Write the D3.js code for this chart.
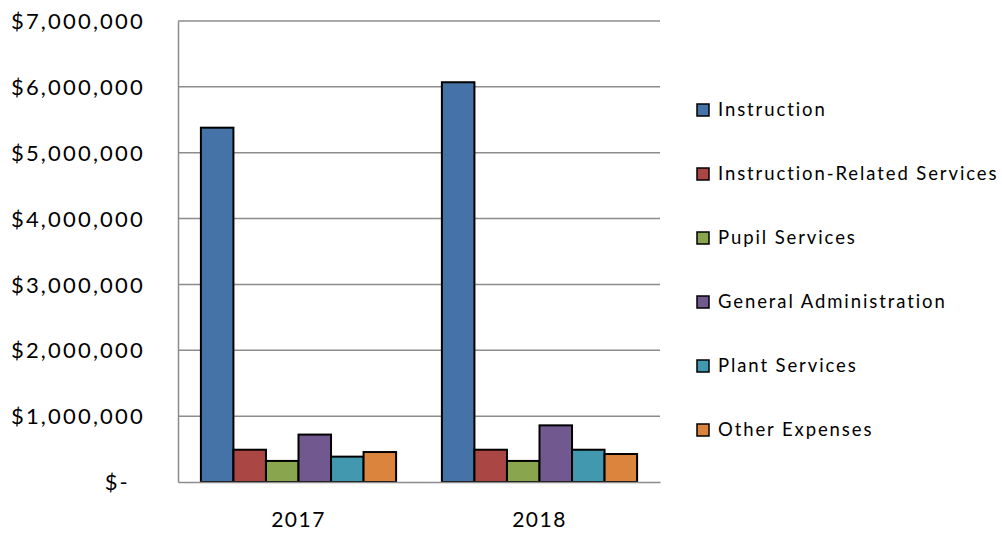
<!DOCTYPE html>
<html><head><meta charset="utf-8">
<script src="https://cdn.jsdelivr.net/npm/d3@7"></script>
<style>body{margin:0;background:#fff}svg{display:block}text{font-family:Lato,"Open Sans",sans-serif;fill:#000}</style>
</head><body><svg id="c" width="1002" height="535"></svg>
<script>
const years = ["2017", "2018"];
const seriesNames = ["Instruction", "Instruction-Related Services", "Pupil Services", "General Administration", "Plant Services", "Other Expenses"];
const instruction = [5380000, 6070000];
const instructionRelated = [490000, 490000];
const pupil = [320000, 320000];
const generalAdmin = [720000, 860000];
const plant = [385000, 490000];
const other = [455000, 425000];
const colors = ["#4572A7", "#AA4643", "#89A54E", "#71588F", "#4198AF", "#DB843D"];
const yTicks = [0, 1000000, 2000000, 3000000, 4000000, 5000000, 6000000, 7000000];

const seriesValues = [instruction, instructionRelated, pupil, generalAdmin, plant, other];
const svg = d3.select("#c");
const m = {l: 178, r: 660, t: 21, b: 482};
const x = d3.scaleBand().domain(years).range([m.l, m.r]).paddingInner(0.19).paddingOuter(0.095);
const xs = d3.scaleBand().domain(seriesNames).range([0, x.bandwidth()]);
const y = d3.scaleLinear().domain([0, 7000000]).range([m.b, m.t]);

// gridlines
svg.append("g").selectAll("line").data(yTicks.filter(d => d > 0)).join("line")
  .attr("x1", m.l).attr("x2", m.r).attr("y1", d => y(d)).attr("y2", d => y(d))
  .attr("stroke", "#8c8c8c").attr("stroke-width", 1.5);

// y axis
const yAxis = d3.axisLeft(y).tickValues(yTicks).tickSize(0).tickPadding(33)
  .tickFormat(d => d === 0 ? "$-" : "$" + d3.format(",")(d));
const ga = svg.append("g").attr("transform", `translate(${m.l},0)`).call(yAxis);
ga.select(".domain").attr("stroke", "#8c8c8c").attr("stroke-width", 1.5);
ga.selectAll("text").attr("font-size", 22).attr("font-family", "Lato, 'Open Sans', sans-serif")
  .attr("fill", "#000").attr("dy", "0.35em").attr("letter-spacing", 2.2)
  .attr("dx", d => d === 0 ? -15 : 0);

// bars
const groups = svg.append("g").selectAll("g").data(years).join("g")
  .attr("transform", d => `translate(${x(d)},0)`);
groups.selectAll("rect").data((yr, i) => seriesNames.map((s, j) => ({s, j, v: seriesValues[j][i]}))).join("rect")
  .attr("x", d => xs(d.s)).attr("width", xs.bandwidth())
  .attr("y", d => y(d.v)).attr("height", d => y(0) - y(d.v))
  .attr("fill", d => colors[d.j]).attr("stroke", "#000").attr("stroke-width", 2);

// x axis
const xAxis = d3.axisBottom(x).tickSize(0).tickPadding(30);
const gx = svg.append("g").attr("transform", `translate(0,${m.b})`).call(xAxis);
gx.select(".domain").attr("stroke", "#8c8c8c").attr("stroke-width", 1.5);
gx.selectAll("text").attr("font-size", 21).attr("font-family", "Lato, 'Open Sans', sans-serif")
  .attr("fill", "#000").attr("letter-spacing", 1.5);

// legend
const lg = svg.append("g").selectAll("g").data(seriesNames).join("g")
  .attr("transform", (d, i) => `translate(697,${110 + i * 64})`);
lg.append("rect").attr("x", 0).attr("y", -6).attr("width", 12).attr("height", 12)
  .attr("fill", (d, i) => colors[i]).attr("stroke", "#000").attr("stroke-width", 1.5);
lg.append("text").attr("x", 21).attr("y", 0).attr("dy", "0.35em").attr("font-size", 18.5)
  .attr("letter-spacing", 1.9).text(d => d);
</script></body></html>
